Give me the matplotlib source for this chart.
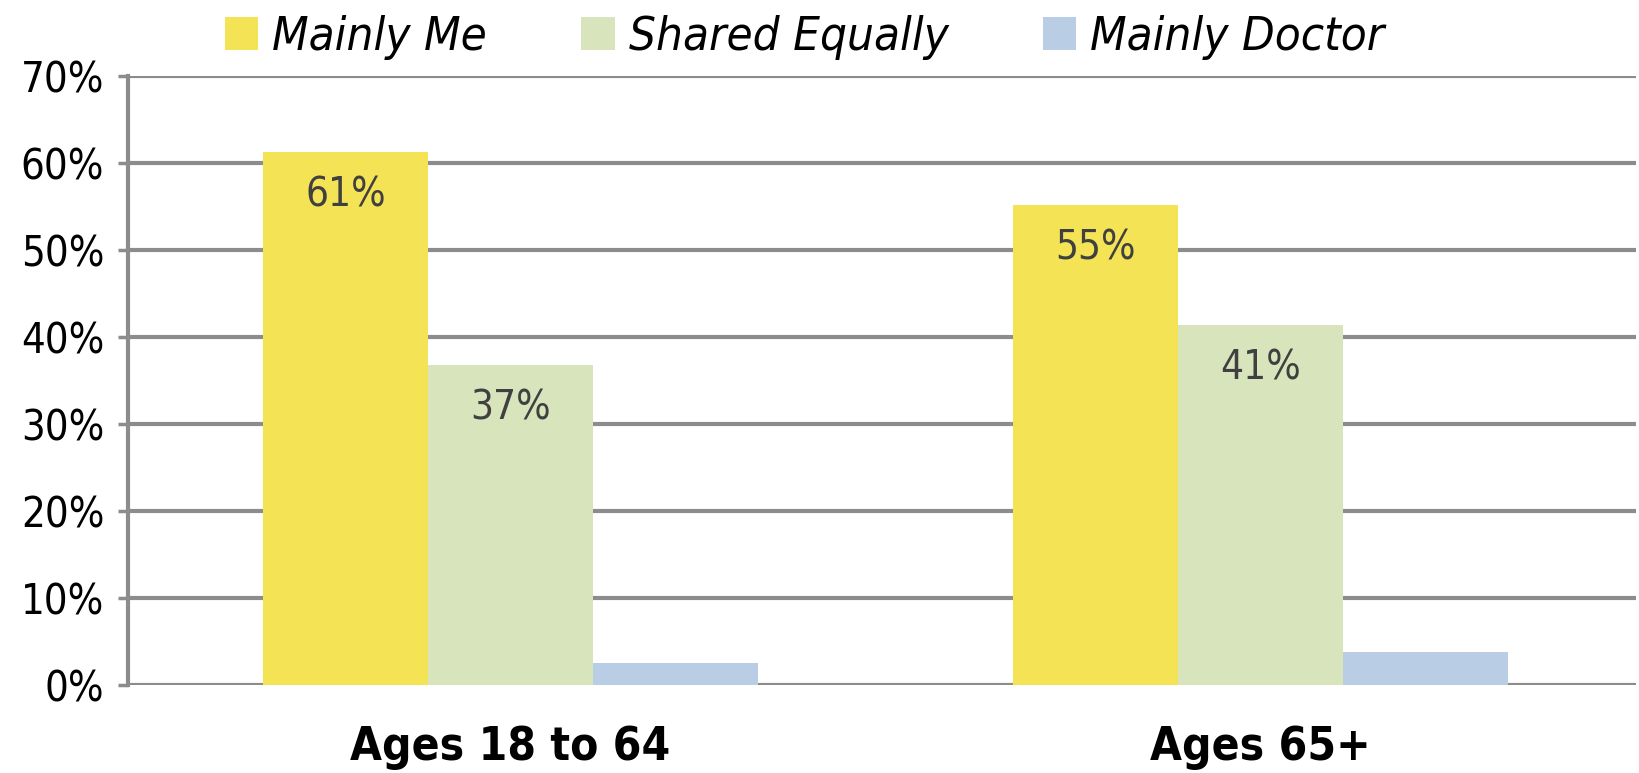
import numpy as np
import matplotlib
matplotlib.use("Agg")
import matplotlib.pyplot as plt

categories = ["Ages 18 to 64", "Ages 65+"]
series_names = ["Mainly Me", "Shared Equally", "Mainly Doctor"]
mainly_me = [61.2, 55.2]
shared_equally = [36.8, 41.4]
mainly_doctor = [2.5, 3.8]
labels_me = ["61%", "55%"]
labels_shared = ["37%", "41%"]
colors = ["#F5E356", "#D8E4BC", "#B9CDE5"]

plt.rcParams['font.family'] = ['DejaVu Sans']

fig = plt.figure(figsize=(16.39, 7.73), dpi=100)
ax = fig.add_axes([0.078, 0.1138, 0.92, 0.788])

x = np.arange(len(categories))
w = 0.22
values = [mainly_me, shared_equally, mainly_doctor]
for i, (vals, name, c) in enumerate(zip(values, series_names, colors)):
    ax.bar(x + (i - 1) * w, vals, width=w, color=c, label=name, zorder=3)

for xi, v, t in zip(x, mainly_me, labels_me):
    ax.text(xi - w, v - 5, t, ha='center', va='center', fontsize=29,
            color='#404040', zorder=4, fontstretch='condensed')
for xi, v, t in zip(x, shared_equally, labels_shared):
    ax.text(xi, v - 5, t, ha='center', va='center', fontsize=29,
            color='#404040', zorder=4, fontstretch='condensed')

ax.set_xlim(-0.51, 1.5)
ax.set_ylim(0, 70)
ax.set_yticks(np.arange(0, 71, 10))
ax.set_yticklabels([f"{v}%" for v in range(0, 71, 10)], fontsize=30,
                   fontstretch='condensed')
ax.set_xticks(x)
ax.set_xticklabels(categories, fontsize=33, fontweight='bold',
                   fontstretch='condensed')
ax.tick_params(axis='x', length=0, pad=29)
ax.tick_params(axis='y', length=7, width=2.5, color='#8C8C8C', pad=10)

ax.grid(axis='y', color='#8C8C8C', linewidth=3, zorder=1)
for s in ['top', 'right', 'bottom']:
    ax.spines[s].set_visible(False)
ax.spines['left'].set_color('#8C8C8C')
ax.spines['left'].set_linewidth(3)

fig.legend(loc='upper center', bbox_to_anchor=(0.491, 1.035), ncol=3,
           frameon=False, handlelength=0.7, handleheight=0.7,
           handletextpad=0.3, columnspacing=2.0,
           prop={'size': 34, 'style': 'italic', 'stretch': 'condensed'})

fig.savefig("out.png", dpi=100)
